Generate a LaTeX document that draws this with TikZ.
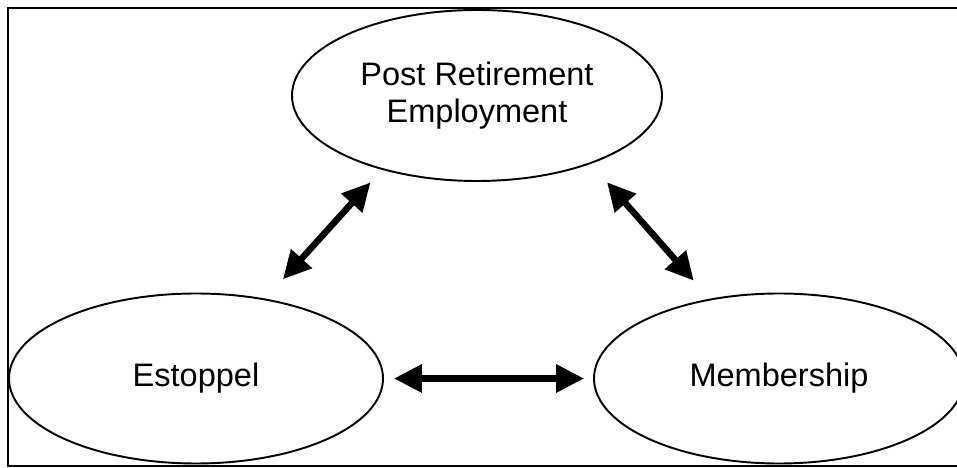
\documentclass[tikz,border=0pt]{standalone}
\usepackage{fontspec}
\setmainfont{Liberation Sans}
\usetikzlibrary{arrows.meta}
\usetikzlibrary{shapes.geometric}

\begin{document}
\begin{tikzpicture}[
    topic/.style={ellipse, draw, line width=1.1pt, inner sep=0pt, minimum width=7.4cm, minimum height=3.4cm, align=center, font=\fontsize{18.5}{21.5}\selectfont},
    link/.style={{Triangle[length=0.56cm, width=0.54cm]}-{Triangle[length=0.56cm, width=0.54cm]}, line width=0.13cm}
  ]
    \useasboundingbox (0,0) rectangle (19.14,9.36);
    \clip (0,0) rectangle (19.14,9.36);
    \draw[line width=1.4pt] (19.4,9.2) -- (0.16,9.2) -- (0.16,0.04) -- (19.4,0.04);

    \node[topic, minimum height=3.42cm] (post) at (9.54,7.45) {Post Retirement\\Employment};
    \node[topic, minimum width=7.48cm] (est) at (3.92,1.79) {Estoppel};
    \node[topic] (mem) at (15.58,1.79) {Membership};

    \draw[link, shorten <=0.52cm, shorten >=0.34cm] (est.49) -- (post.218);
    \draw[link, shorten <=0.49cm, shorten >=0.48cm] (post.-31.5) -- (mem.131);
    \draw[link, shorten <=0.2cm, shorten >=0.18cm] (est.east) -- (mem.west);
  \end{tikzpicture}
\end{document}
